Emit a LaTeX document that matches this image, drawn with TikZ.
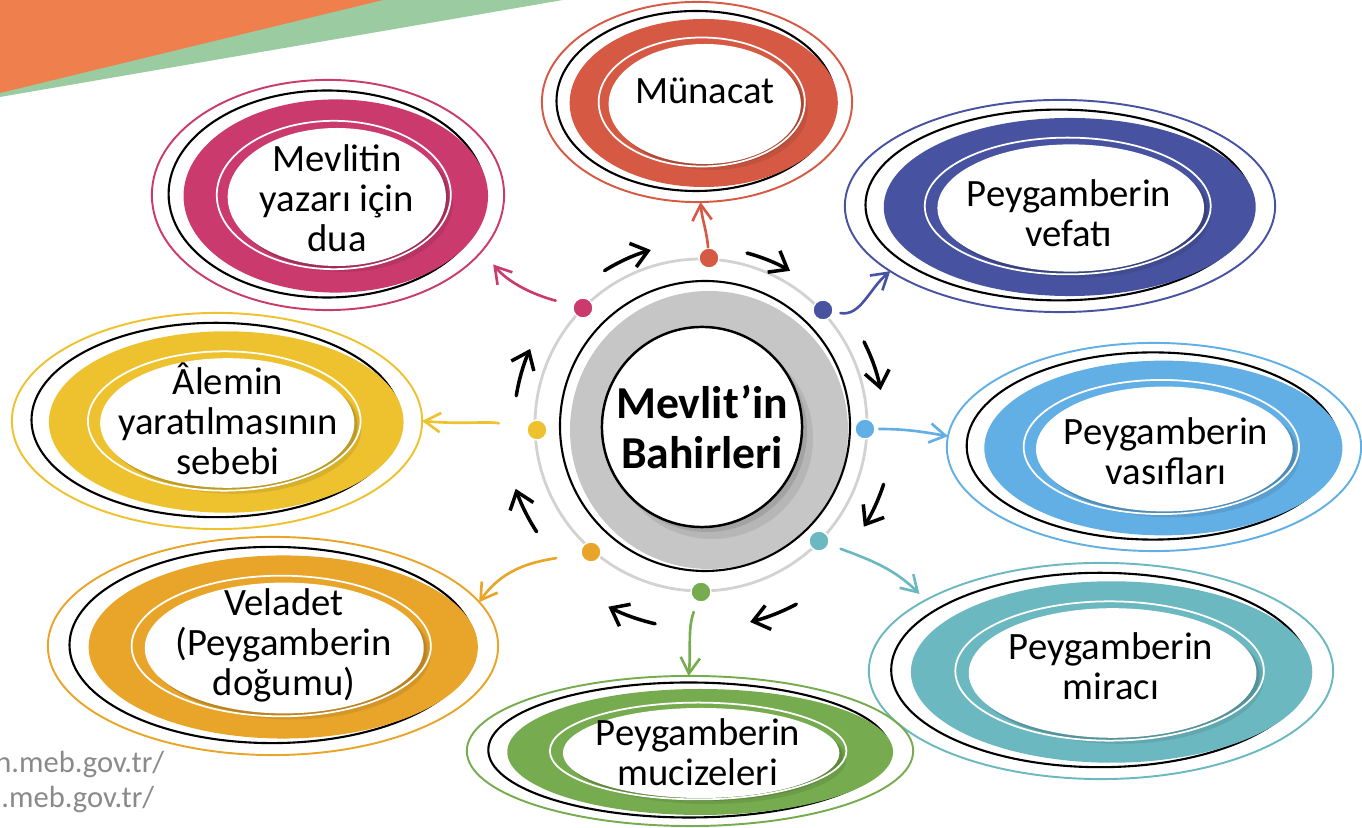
\documentclass[tikz,border=0pt]{standalone}
\usepackage{fontspec}
\setmainfont{Carlito}
\usetikzlibrary{arrows.meta,shapes.geometric}

\definecolor{cOra}{HTML}{EF7F4D}
\definecolor{cGrn}{HTML}{9BCBA0}
\definecolor{cMun}{HTML}{D65A43}
\definecolor{cVef}{HTML}{4753A0}
\definecolor{cVas}{HTML}{62AFE6}
\definecolor{cMir}{HTML}{6BB8C1}
\definecolor{cMuc}{HTML}{76AC4F}
\definecolor{cVel}{HTML}{E9A52A}
\definecolor{cAle}{HTML}{EEC22E}
\definecolor{cYaz}{HTML}{CB3A6D}
\definecolor{cRing}{HTML}{D2D2D2}
\definecolor{cBand}{HTML}{C6C6C6}
\definecolor{cUrl}{HTML}{8A8A8A}

\tikzset{
  ring/.style={ellipse, inner sep=0pt, outer sep=0pt, line width=0.55pt},
  dotnode/.style={circle, minimum size=0.2cm, inner sep=0pt, draw=white, line width=0.4pt},
  hubdisc/.style={circle, minimum size=2cm, inner sep=0pt, draw, line width=0.7pt, fill=white,
    align=center, font=\bfseries\fontsize{13}{14}\selectfont},
  bahirtext/.style={align=center, inner sep=0pt, font=\fontsize{11}{11.4}\selectfont},
  urltext/.style={inner sep=0pt, text=cUrl, font=\fontsize{8.7}{10}\selectfont},
  link/.style={-{Straight Barb[length=4.5pt,width=5.5pt]}, line width=0.75pt, line cap=round},
  cyc/.style={-{Straight Barb[length=4.5pt,width=7pt]}, line width=1pt, line cap=round},
}

\begin{document}
\begin{tikzpicture}[x=0.01cm, y=0.01cm]
  \useasboundingbox (0,-828) rectangle (1362,0);
  \clip (0,-828) rectangle (1362,0);

  % corner stripes
  \fill[cGrn] (0,0) -- (563,0) -- (0,-97) -- cycle;
  \fill[cOra] (0,0) -- (383,0) -- (0,-93) -- cycle;

  % the eight bahir ellipses
  \foreach \nm/\col/\cx/\cy/\rx/\ry/\tx/\ty/\txt in {
      munacat/cMun/697/102/155/100/705/91/{Münacat},
      vefat/cVef/1060/206/215/106/1069/213/{Peygamberin\\vefatı},
      vasif/cVas/1154/447/207/104/1166/451/{Peygamberin\\vasıfları},
      mirac/cMir/1101/671/232/108/1111/666/{Peygamberin\\miracı},
      mucize/cMuc/690/751/223/75/698/752/{Peygamberin\\mucizeleri},
      velad/cVel/273/646/225/109/284/645/{Veladet\\(Peygamberin\\doğumu)},
      alem/cAle/217/421/205/108/228/419/{Âlemin\\yaratılmasının\\sebebi},
      yazar/cYaz/328/195/176/115/337/198/{Mevlitin\\yazarı için\\dua}}{
    \pgfmathsetmacro\ow{0.02*\rx}
    \pgfmathsetmacro\oh{0.02*\ry}
    \pgfmathsetmacro\wx{\cx+0.05*\rx}
    \node[ring, draw=\col, minimum width=\ow cm, minimum height=\oh cm] (\nm) at (\cx,-\cy) {};
    \draw[line width=0.6pt] (\cx-1,-\cy+1) ellipse[x radius=0.9*\rx, y radius=0.9*\ry];
    \fill[\col] (\wx-1,-\cy-1) ellipse[x radius=0.865*\rx, y radius=0.84*\ry];
    \fill[\col!55!black, opacity=0.2] (\wx+7,-\cy-8) ellipse[x radius=0.62*\rx, y radius=0.6*\ry];
    \fill[\col!55!black, opacity=0.3] (\wx+3,-\cy-5) ellipse[x radius=0.62*\rx, y radius=0.6*\ry];
    \draw[white, line width=0.5pt] (\wx-3,-\cy) ellipse[x radius=0.665*\rx, y radius=0.645*\ry];
    \fill[white] (\wx,-\cy-2) ellipse[x radius=0.62*\rx, y radius=0.6*\ry];
    \node[bahirtext] (\nm-t) at (\tx,-\ty) {\txt};
  }

  % hub
  \coordinate (mid) at (701,-425);
  \draw[cRing, line width=0.8pt] (mid) circle[radius=166];
  \fill[cBand] (709,-430) circle[radius=139];
  \draw[line width=0.6pt] (705,-426) circle[radius=145];
  \fill[black, opacity=0.08] (712,-438) circle[radius=101];
  \fill[black, opacity=0.1] (707,-432) circle[radius=100];
  \node[hubdisc] (hub) at (702,-427) {Mevlit’in\\Bahirleri};

  % dots on the ring
  \foreach \nm/\col/\x/\y in {pMun/cMun/709/258, pVef/cVef/823/310, pVas/cVas/865/429,
      pMir/cMir/819/541, pMuc/cMuc/701/592, pVel/cVel/591/552, pAle/cAle/537/430, pYaz/cYaz/583/308}
    \node[dotnode, fill=\col] (\nm) at (\x,-\y) {};

  % clockwise arrows round the hub
  \foreach \sa/\ea/\rr in {122/106/182, 75/60/178, 27/11/183, -18/-32/192,
      -62/-76/203, -103/-117/204, 213/199/196, 171/156/187}
    \draw[cyc] ([shift={(\sa:\rr)}]mid) arc[start angle=\sa, end angle=\ea, radius=\rr];

  % dot to ellipse
  \draw[link, cMun] (pMun) to[out=95, in=-85] (munacat.272);
  \draw[link, cVef, shorten <=2pt] (pVef) to[out=-10, in=220] (vefat.201);
  \draw[link, cVas, shorten <=1pt] (pVas) to[out=0, in=170] (vasif.177);
  \draw[link, cMir, shorten <=3.5pt, shorten >=2.5pt] (pMir) to[out=-20, in=135] (mirac.158);
  \draw[link, cMuc, shorten <=3pt] (pMuc) to[out=-110, in=85] (mucize.91);
  \draw[link, cVel, shorten <=7pt] (pVel) to[out=190, in=55] (velad.12);
  \draw[link, cAle, shorten <=8pt] (pAle) to[out=170, in=-5] (alem.0);
  \draw[link, cYaz, shorten <=5pt, shorten >=5pt] (pYaz) to[out=165, in=-50] (yazar.-20);

  % source lines
  \node[urltext, anchor=base east] (url1) at (165,-773) {n.meb.gov.tr/};
  \node[urltext, anchor=base east] (url2) at (155,-808) {.meb.gov.tr/};
\end{tikzpicture}
\end{document}
